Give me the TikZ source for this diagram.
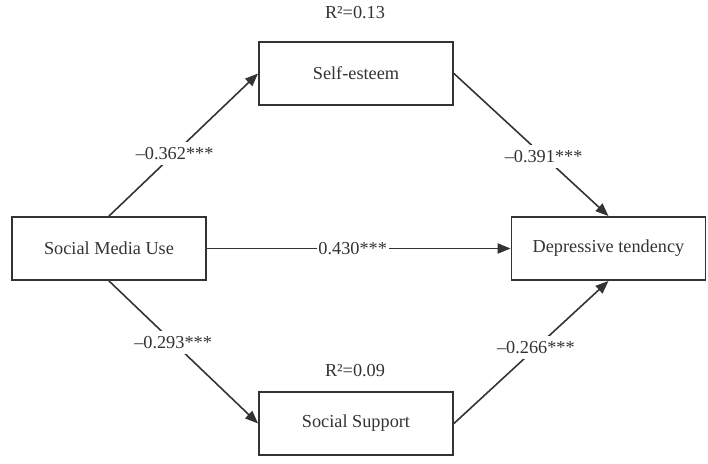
\documentclass[tikz,border=0pt]{standalone}
\usepackage{fontspec}
\setmainfont{Liberation Serif}
\usetikzlibrary{positioning,arrows.meta}
\definecolor{pathgray}{HTML}{333333}

\begin{document}
\begin{tikzpicture}[
  x=0.02cm, y=0.02cm,
  var/.style={draw=pathgray, line width=1.1pt, minimum width=3.88cm,
              minimum height=1.26cm, font=\fontsize{10.4}{12}\selectfont,
              text=pathgray},
  coef/.style={fill=white, inner xsep=1pt, inner ysep=3pt,
               font=\fontsize{10.4}{12}\selectfont, text=pathgray},
  rsq/.style={font=\fontsize{10.4}{12}\selectfont, text=pathgray},
  arr/.style={-{Triangle[length=7.4pt,width=5.8pt]}, line width=0.9pt, pathgray},
]
\useasboundingbox (0,0) rectangle (708,464);

\node[var] (smu) at (109,215.5) {Social Media Use};
\node[var] (se)  at (356,390.5) {Self-esteem};
\node[var] (ss)  at (356,40.5)  {Social Support};
\node[var] (dt)  at (608.5,215.5) {Depressive tendency};

\node[rsq] (r2se) at (355,451) {R²=0.13};
\node[rsq] (r2ss) at (355,93)  {R²=0.09};

\draw[arr] (smu.north) -- node[coef, pos=0.44] {–0.362***} (se.west);
\draw[arr] (se.east)   -- node[coef, pos=0.58] {–0.391***} (dt.north);
\draw[arr] (smu.east)  -- node[coef, pos=0.48] {0.430***} (dt.west);
\draw[arr] (smu.south) -- node[coef, pos=0.43] {–0.293***} (ss.west);
\draw[arr] (ss.east)   -- node[coef, pos=0.53] {–0.266***} (dt.south);

\end{tikzpicture}
\end{document}
